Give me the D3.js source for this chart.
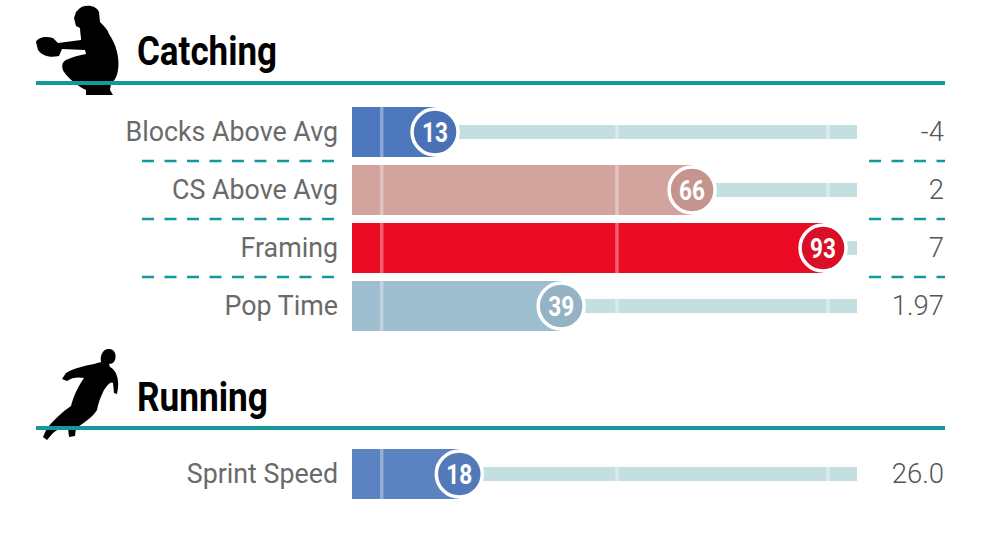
<!DOCTYPE html>
<html>
<head>
<meta charset="utf-8">
<script src="https://cdn.jsdelivr.net/npm/d3@7/dist/d3.min.js"></script>
<style>
  html, body { margin: 0; padding: 0; background: #fff; }
  svg { display: block; }
</style>
</head>
<body>
<svg id="chart" width="989" height="537"></svg>
<script>
// ---- data ----
const sections = ["Catching", "Running"];
const catchingMetrics = ["Blocks Above Avg", "CS Above Avg", "Framing", "Pop Time"];
const catchingPercentiles = [13, 66, 93, 39];
const catchingValues = ["-4", "2", "7", "1.97"];
const catchingColors = ["#4d77bd", "#d3a49d", "#ec0b24", "#9ebdcf"];
const catchingDotColors = ["#4a71b6", "#c5958d", "#d90f27", "#94b3c5"];

const runningMetrics = ["Sprint Speed"];
const runningPercentiles = [18];
const runningValues = ["26.0"];
const runningColors = ["#5b83c1"];
const runningDotColors = ["#5379b9"];

const gridPercentiles = [2, 50.5, 94];

// ---- layout ----
const svg = d3.select("#chart");
const teal = "#13999b";
const x = d3.scaleLinear().domain([0, 100]).range([372, 857]);
const barLeft = 352;
const trackRight = 857;

const catcherPath = "M78,10 C82,4 96,4 99,12 L100,22 C104,26 108,30 109,34 C116,44 120,58 118,70 C117,78 113,82 111,84 L110,90 L113,95 L86,95 L86,90 C78,86 70,80 64,72 C61,67 62,62 66,60 C72,57 80,55 86,54 L85,50 L62,49 L59,56 C50,58 42,56 38,50 L36,42 C38,37 46,36 53,38 L58,43 L81,40 C81,36 80,32 80,28 L76,26 L74,18 L76,12 Z";
const runnerPath = "M108,349 C114,348 117,354 115,360 C114,363 111,364 109,364 L110,367 C116,370 119,378 118,388 L117,394 L114,393 L113,383 C111,381 108,384 104,390 C100,398 98,404 97,410 C92,418 82,424 76,428 L75,436 L69,437 L68,428 C62,427 57,430 53,433 L47,440 L43,437 L47,428 C54,420 62,412 71,406 C73,398 77,388 84,378 C79,377 72,377 67,381 L62,379 L66,373 C74,368 84,366 94,364 L101,362 C100,356 102,350 108,349 Z";

function drawSection(opts) {
  const g = svg.append("g");
  g.append("path").attr("d", opts.icon).attr("fill", "#000");
  g.append("text")
    .attr("x", 137).attr("y", opts.titleY)
    .attr("font-family", "Roboto, sans-serif").attr("font-weight", 700)
    .attr("font-size", 40)
    .attr("textLength", opts.titleLen).attr("lengthAdjust", "spacingAndGlyphs")
    .attr("fill", "#000").text(opts.title);
  g.append("line").attr("x1", 36).attr("x2", 945)
    .attr("y1", opts.ruleY).attr("y2", opts.ruleY)
    .attr("stroke", teal).attr("stroke-width", 4);

  const y = d3.scaleBand().domain(opts.metrics)
    .range(opts.yRange).paddingInner(0.138).paddingOuter(0.069);
  const bw = y.bandwidth();
  const rows = opts.metrics.map((m, i) => ({
    m, p: opts.pct[i], v: opts.vals[i], c: opts.colors[i], dc: opts.dotColors[i]
  }));

  rows.slice(1).forEach(d => {
    const yy = y(d.m) - (y.step() - bw) / 2;
    g.append("line").attr("x1", 142).attr("x2", 338).attr("y1", yy).attr("y2", yy)
      .attr("stroke", teal).attr("stroke-width", 2.5).attr("stroke-dasharray", "12,10.5");
    g.append("line").attr("x1", 869).attr("x2", 945).attr("y1", yy).attr("y2", yy)
      .attr("stroke", teal).attr("stroke-width", 2.5).attr("stroke-dasharray", "12,10.5");
  });

  const row = g.selectAll("g.row").data(rows).join("g").attr("class", "row")
    .attr("transform", d => `translate(0,${y(d.m)})`);

  row.append("rect").attr("x", d => x(d.p)).attr("width", d => trackRight - x(d.p))
    .attr("y", bw / 2 - 7).attr("height", 14).attr("fill", "#c4dfdf");
  row.append("rect").attr("x", barLeft).attr("width", d => x(d.p) - barLeft)
    .attr("y", 0).attr("height", bw).attr("fill", d => d.c);
  gridPercentiles.forEach(gp => {
    row.append("line").attr("x1", x(gp)).attr("x2", x(gp))
      .attr("y1", d => x(gp) < x(d.p) ? 0 : bw / 2 - 7)
      .attr("y2", d => x(gp) < x(d.p) ? bw : bw / 2 + 7)
      .attr("stroke", "#fff").attr("stroke-opacity", 0.35).attr("stroke-width", 3.5);
  });
  row.append("circle").attr("cx", d => x(d.p)).attr("cy", bw / 2).attr("r", 23)
    .attr("fill", d => d.dc).attr("stroke", "#fff").attr("stroke-width", 3.5);
  row.append("text").attr("x", d => x(d.p)).attr("y", bw / 2 + 10)
    .attr("text-anchor", "middle").attr("font-family", "Roboto, sans-serif")
    .attr("font-weight", 700).attr("font-size", 28)
    .attr("textLength", 26).attr("lengthAdjust", "spacingAndGlyphs")
    .attr("fill", "#fff").text(d => d.p);
  row.append("text").attr("x", 338).attr("y", bw / 2 + 9.5)
    .attr("text-anchor", "end").attr("font-family", "Roboto, sans-serif")
    .attr("font-size", 26.8).attr("fill", "#6a6a6a").text(d => d.m);
  row.append("text").attr("x", 944).attr("y", bw / 2 + 9.5)
    .attr("text-anchor", "end").attr("font-family", "Roboto, sans-serif")
    .attr("font-weight", 300).attr("font-size", 27.5).attr("fill", "#555").text(d => d.v);
}

drawSection({
  title: sections[0], titleY: 65, titleLen: 140, ruleY: 83, icon: catcherPath,
  metrics: catchingMetrics, pct: catchingPercentiles, vals: catchingValues,
  colors: catchingColors, dotColors: catchingDotColors, yRange: [103, 335]
});
drawSection({
  title: sections[1], titleY: 411, titleLen: 131, ruleY: 428, icon: runnerPath,
  metrics: runningMetrics, pct: runningPercentiles, vals: runningValues,
  colors: runningColors, dotColors: runningDotColors, yRange: [445, 503]
});
</script>
</body>
</html>
